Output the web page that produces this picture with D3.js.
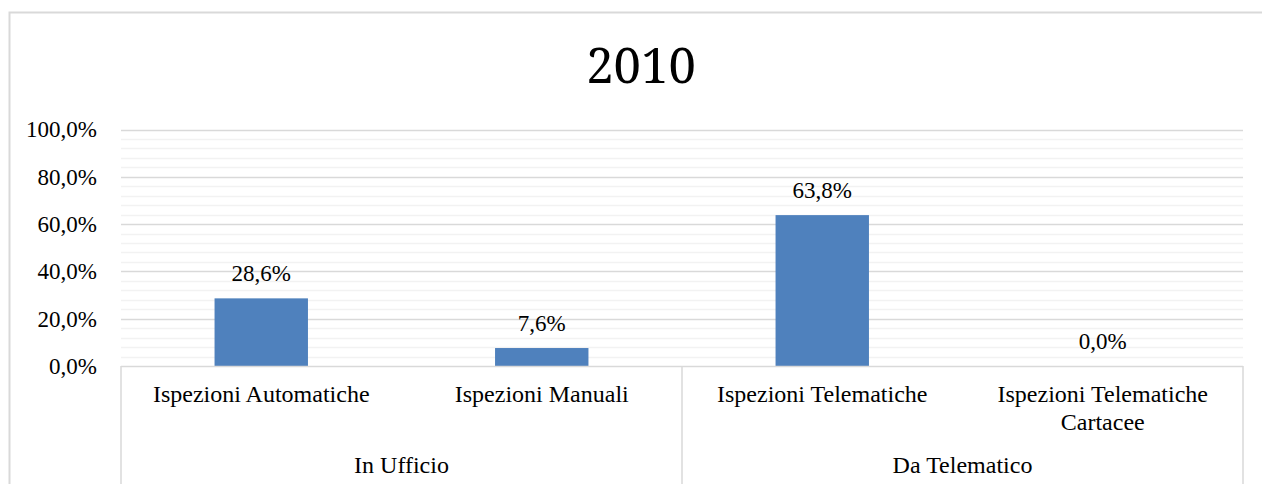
<!DOCTYPE html>
<html><head><meta charset="utf-8">
<script src="https://cdn.jsdelivr.net/npm/d3@7"></script>
<style>body{margin:0;background:#fff;}svg{display:block;}</style>
</head><body>
<script>
const title = "2010";
const categories = ["Ispezioni Automatiche", "Ispezioni Manuali", "Ispezioni Telematiche", "Ispezioni Telematiche Cartacee"];
const categoryLines = [["Ispezioni Automatiche"], ["Ispezioni Manuali"], ["Ispezioni Telematiche"], ["Ispezioni Telematiche", "Cartacee"]];
const groups = ["In Ufficio", "Da Telematico"];
const groupOf = [0, 0, 1, 1];
const values = [28.6, 7.6, 63.8, 0.0];
const yTicks = [0, 20, 40, 60, 80, 100];
const minorTicks = d3.range(0, 101, 4);

const W = 1262, H = 484;
const pLeft = 121, pRight = 1243, pTop = 129.5, pBottom = 366;
const serif = "'Liberation Serif','Times New Roman',serif";
const FS = 23, FSC = 24;
const fmt = v => v.toFixed(1).replace(".", ",") + "%";

const svg = d3.select("body").append("svg").attr("width", W).attr("height", H);
svg.append("rect").attr("x", 9.5).attr("y", 12.5).attr("width", 1270).attr("height", 500)
  .attr("fill", "#fff").attr("stroke", "#d9d9d9").attr("stroke-width", 2);

svg.append("text").attr("x", 641).attr("y", 83).attr("text-anchor", "middle")
  .attr("font-family", "'Noto Serif','DejaVu Serif',serif").attr("font-size", 49).attr("fill", "#000").text(title);

const x = d3.scaleBand().domain(categories).range([pLeft, pRight]).paddingInner(0.667).paddingOuter(0.3335);
const y = d3.scaleLinear().domain([0, 100]).range([pBottom, pTop]);

// minor grid
svg.append("g").selectAll("line").data(minorTicks.filter(t => t % 20 !== 0)).join("line")
  .attr("x1", pLeft).attr("x2", pRight).attr("y1", d => Math.round(y(d)) + 0.5).attr("y2", d => Math.round(y(d)) + 0.5)
  .attr("stroke", "#f2f2f2").attr("stroke-width", 1.5);
// major grid
svg.append("g").selectAll("line").data(yTicks.filter(t => t > 0)).join("line")
  .attr("x1", pLeft).attr("x2", pRight).attr("y1", d => Math.round(y(d)) + 0.5).attr("y2", d => Math.round(y(d)) + 0.5)
  .attr("stroke", "#d9d9d9").attr("stroke-width", 1.5);

// y axis labels
const yAxis = d3.axisLeft(y).tickValues(yTicks).tickFormat(fmt).tickSize(0).tickPadding(0);
const ga = svg.append("g").attr("transform", `translate(97,0)`).call(yAxis);
ga.select(".domain").remove();
ga.selectAll("text").attr("font-family", serif).attr("font-size", FS).attr("fill", "#000");

// bars
svg.append("g").selectAll("rect").data(values).join("rect")
  .attr("x", (d, i) => x(categories[i])).attr("width", x.bandwidth())
  .attr("y", d => y(d)).attr("height", d => y(0) - y(d))
  .attr("fill", "#4f81bd");

// value labels
svg.append("g").selectAll("text").data(values).join("text")
  .attr("x", (d, i) => x(categories[i]) + x.bandwidth() / 2).attr("y", d => y(d) - 17)
  .attr("text-anchor", "middle").attr("font-family", serif).attr("font-size", FS).attr("fill", "#000")
  .text(fmt);

// category axis
svg.append("line").attr("x1", pLeft).attr("x2", pRight).attr("y1", pBottom + 0.5).attr("y2", pBottom + 0.5)
  .attr("stroke", "#d9d9d9").attr("stroke-width", 1.5);
const step = x.step();
const seps = [pLeft, pLeft + 2 * step, pRight];
svg.append("g").selectAll("line").data(seps).join("line")
  .attr("x1", d => d).attr("x2", d => d).attr("y1", pBottom).attr("y2", H)
  .attr("stroke", "#d9d9d9").attr("stroke-width", 1.5);

const cat = svg.append("g").selectAll("text").data(categoryLines).join("text")
  .attr("x", (d, i) => x(categories[i]) + x.bandwidth() / 2).attr("y", 402)
  .attr("text-anchor", "middle").attr("font-family", serif).attr("font-size", FSC).attr("fill", "#000");
cat.selectAll("tspan").data(d => d).join("tspan")
  .attr("x", function () { return this.parentNode.getAttribute("x"); })
  .attr("dy", (d, i) => i === 0 ? 0 : 28).text(d => d);

svg.append("g").selectAll("text").data(groups).join("text")
  .attr("x", (d, gi) => {
    const idx = categories.filter((c, i) => groupOf[i] === gi);
    return (x(idx[0]) + x(idx[idx.length - 1]) + x.bandwidth()) / 2;
  })
  .attr("y", 473).attr("text-anchor", "middle").attr("font-family", serif).attr("font-size", FSC).attr("fill", "#000")
  .text(d => d);
</script>
</body></html>
